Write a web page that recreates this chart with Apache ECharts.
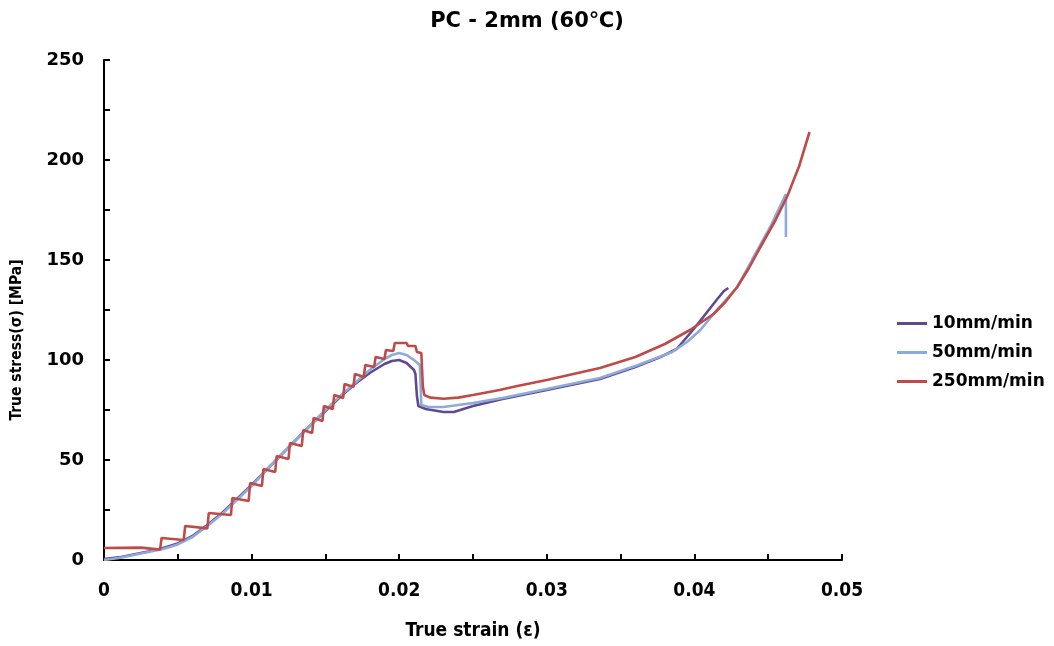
<!DOCTYPE html>
<html>
<head>
<meta charset="utf-8">
<script src="https://cdn.jsdelivr.net/npm/echarts@6/dist/echarts.min.js"></script>
<style>
html,body{margin:0;padding:0;background:#fff;}
#chart{width:1054px;height:646px;}
</style>
</head>
<body>
<div id="chart"></div>
<script>
// ---- data (strain, true stress MPa) ----
const seriesNames = ['10mm/min', '50mm/min', '250mm/min'];

const rate10 = [
  [0,0.5],[0.001,1.3],[0.002,2.8],[0.003,4.3],[0.004,6],[0.005,8.3],[0.006,12],[0.007,17.5],
  [0.008,23.5],[0.009,30.5],[0.010,37.5],[0.011,45],[0.012,52.5],[0.013,60],[0.014,67.5],
  [0.015,74.5],[0.016,81.5],[0.017,88],[0.018,93.5],[0.019,98],[0.0195,99.5],[0.020,100],
  [0.0205,98.5],[0.021,95],[0.0211,93],[0.0212,82],[0.0213,77],[0.0218,75.5],[0.023,74],
  [0.0237,74],[0.025,77],[0.027,80.5],[0.030,85],[0.0336,90.5],[0.036,96.5],[0.0377,101.5],
  [0.0388,105.5],[0.0399,115],[0.0406,121.5],[0.0415,130],[0.0420,134.5],[0.0423,136]
];

const rate50 = [
  [0,0],[0.001,1],[0.002,2.5],[0.003,4],[0.004,5.5],[0.005,7.8],[0.006,11.5],[0.007,17],
  [0.008,23],[0.009,30],[0.010,37],[0.011,45],[0.012,52.5],[0.013,60],[0.014,67.5],[0.015,75],
  [0.016,82],[0.017,88.5],[0.018,95],[0.019,100.5],[0.0195,102.5],[0.020,103.5],[0.0205,102.5],
  [0.021,100],[0.0214,97.5],[0.0215,77.5],[0.022,76.5],[0.023,76.5],[0.025,78.5],[0.027,81],
  [0.030,85.5],[0.0336,91],[0.036,97],[0.0385,104],[0.0395,109],[0.0404,115],[0.0417,126.5],
  [0.0429,136.5],[0.0439,150],[0.0451,166],[0.0462,183],[0.0462,161.5]
];

const rate250 = [
  [0,6],[0.0025,6.2],[0.0038,5.2],
  [0.0039,11],[0.0054,10],
  [0.0055,17],[0.0070,15.8],
  [0.0071,23.5],[0.0086,22.5],
  [0.0087,31],[0.0098,29.5],
  [0.0099,38.5],[0.0107,37],
  [0.0108,45.5],[0.0116,44],
  [0.0117,52],[0.0125,50.5],
  [0.0126,58.5],[0.0134,57],
  [0.0135,65],[0.0141,63.5],
  [0.0142,71],[0.0148,69.5],
  [0.0149,77],[0.0155,75.5],
  [0.0156,82.5],[0.0162,81],
  [0.0163,88],[0.0169,86.5],
  [0.0170,93],[0.0176,91.5],
  [0.0177,97.5],[0.0183,96.5],
  [0.0184,101.5],[0.0190,100.5],
  [0.0191,105],[0.0196,104.5],
  [0.0197,108.5],[0.0205,108.5],
  [0.0206,107],[0.0211,107],
  [0.0212,104],[0.0215,103.5],
  [0.0216,87],[0.0217,82.5],[0.0221,81.2],[0.023,80.6],[0.024,81.2],[0.025,82.5],
  [0.0268,85],[0.028,87],[0.030,90],[0.0336,96],[0.036,101.5],[0.038,108],[0.0397,115],
  [0.0413,123],[0.0421,129],[0.0429,136.5],[0.0437,146],[0.0444,155.5],[0.0455,170],
  [0.0463,182],[0.0471,197],[0.0478,214]
];

const colors = ['#5f4a8e', '#8eaadb', '#be4b48'];

const condFont = "'DejaVu Sans Condensed', 'Liberation Sans Narrow', 'DejaVu Sans', sans-serif";
const boldFont = "'DejaVu Sans', sans-serif";

const chart = echarts.init(document.getElementById('chart'), null, {renderer: 'canvas'});

const dataSets = [rate10, rate50, rate250];

chart.setOption({
  animation: false,
  backgroundColor: '#ffffff',
  title: {
    text: 'PC - 2mm (60℃)',
    left: 'center',
    top: 6,
    textStyle: {fontFamily: boldFont, fontWeight: 'bold', fontSize: 21, color: '#000'}
  },
  legend: {
    orient: 'vertical',
    left: 892,
    top: 310,
    icon: 'rect',
    itemWidth: 30,
    itemHeight: 3,
    itemGap: 12,
    textStyle: {fontFamily: boldFont, fontWeight: 'bold', fontSize: 17, color: '#000'},
    data: seriesNames
  },
  grid: {left: 104, right: 212, top: 60, bottom: 86},
  xAxis: {
    type: 'value',
    min: 0, max: 0.05, interval: 0.01,
    name: 'True strain (ε)',
    nameLocation: 'middle',
    nameGap: 62,
    nameTextStyle: {fontFamily: condFont, fontWeight: 'bold', fontSize: 19, color: '#000'},
    axisLine: {lineStyle: {color: '#000', width: 2}},
    axisTick: {inside: true, length: 6, lineStyle: {color: '#000', width: 2}},
    minorTick: {show: true, splitNumber: 2, length: 6, lineStyle: {color: '#000', width: 2}},
    splitLine: {show: false},
    axisLabel: {
      margin: 22,
      fontFamily: condFont, fontWeight: 'bold', fontSize: 19, color: '#000',
      formatter: v => v === 0 ? '0' : v.toFixed(2)
    }
  },
  yAxis: {
    type: 'value',
    min: 0, max: 250, interval: 50,
    name: 'True stress(σ) [MPa]',
    nameLocation: 'middle',
    nameGap: 79,
    nameTextStyle: {fontFamily: condFont, fontWeight: 'bold', fontSize: 15.5, color: '#000', padding: [0, 60, 0, 0]},
    axisLine: {show: true, lineStyle: {color: '#000', width: 2}},
    axisTick: {show: true, inside: true, length: 6, lineStyle: {color: '#000', width: 2}},
    minorTick: {show: true, splitNumber: 2, length: 6, lineStyle: {color: '#000', width: 2}},
    splitLine: {show: false},
    axisLabel: {margin: 20, fontFamily: boldFont, fontWeight: 'bold', fontSize: 18, color: '#000'}
  },
  series: seriesNames.map((n, i) => ({
    name: n,
    type: 'line',
    data: dataSets[i],
    symbol: 'none',
    smooth: false,
    color: colors[i],
    lineStyle: {color: colors[i], width: 2.6},
    z: 2 + i
  }))
});
</script>
</body>
</html>
